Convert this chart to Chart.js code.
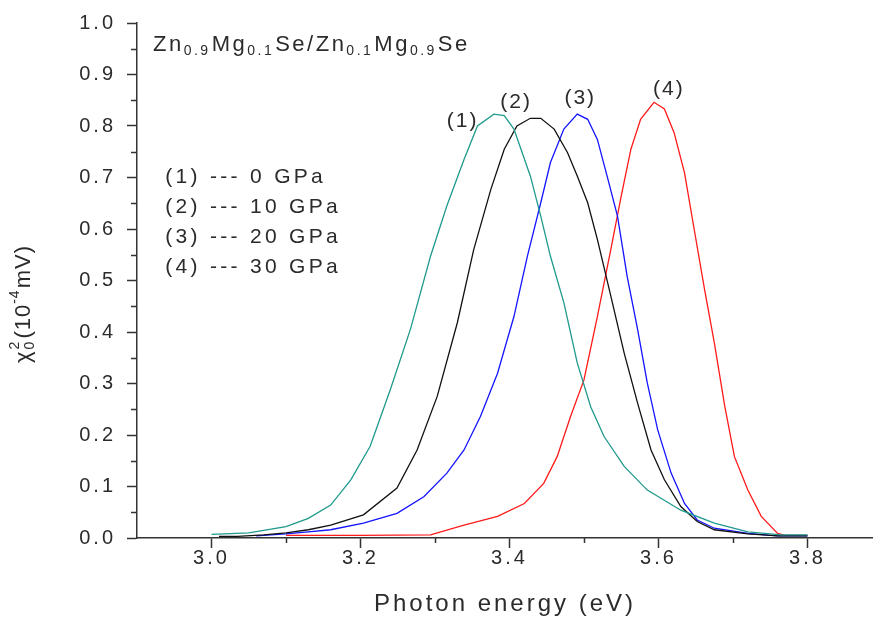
<!DOCTYPE html>
<html>
<head>
<meta charset="utf-8">
<script src="https://cdn.jsdelivr.net/npm/chart.js@4"></script>
<style>
    html, body { margin: 0; padding: 0; background: #fff; }
    #wrap { width: 873px; height: 622px; }
</style>
</head>
<body>
<div id="wrap"><canvas id="chiChart" width="873" height="622"></canvas></div>
<script>
// photon energy (eV) / chi0^2 (10^-4 mV)
const energy0 = [3.00, 3.05, 3.10, 3.13, 3.16, 3.187, 3.213, 3.24, 3.267, 3.294, 3.316, 3.339, 3.357, 3.379, 3.393, 3.406, 3.428, 3.442, 3.455, 3.473, 3.491, 3.509, 3.527, 3.554, 3.585, 3.63, 3.675, 3.72, 3.765, 3.80];
const chi0 = [0.007, 0.010, 0.022, 0.038, 0.064, 0.113, 0.178, 0.288, 0.405, 0.547, 0.645, 0.735, 0.800, 0.823, 0.820, 0.794, 0.703, 0.625, 0.547, 0.457, 0.340, 0.255, 0.197, 0.139, 0.093, 0.054, 0.029, 0.012, 0.006, 0.006];

const energy10 = [3.01, 3.035, 3.07, 3.10, 3.13, 3.16, 3.204, 3.249, 3.276, 3.303, 3.33, 3.352, 3.375, 3.393, 3.41, 3.428, 3.442, 3.46, 3.478, 3.491, 3.505, 3.518, 3.536, 3.554, 3.572, 3.59, 3.608, 3.63, 3.652, 3.675, 3.72, 3.76, 3.80];
const chi10 = [0.003, 0.003, 0.006, 0.010, 0.016, 0.025, 0.045, 0.097, 0.171, 0.275, 0.418, 0.560, 0.677, 0.755, 0.800, 0.815, 0.815, 0.794, 0.748, 0.703, 0.651, 0.580, 0.470, 0.359, 0.262, 0.171, 0.113, 0.061, 0.032, 0.016, 0.008, 0.004, 0.004];

const energy20 = [3.06, 3.10, 3.13, 3.16, 3.204, 3.249, 3.285, 3.316, 3.339, 3.361, 3.384, 3.406, 3.424, 3.442, 3.455, 3.473, 3.491, 3.505, 3.518, 3.531, 3.545, 3.558, 3.572, 3.585, 3.599, 3.617, 3.635, 3.652, 3.675, 3.72, 3.76, 3.80];
const chi20 = [0.004, 0.008, 0.012, 0.016, 0.029, 0.048, 0.080, 0.126, 0.171, 0.236, 0.320, 0.430, 0.547, 0.651, 0.729, 0.794, 0.823, 0.813, 0.774, 0.703, 0.625, 0.508, 0.405, 0.301, 0.210, 0.126, 0.067, 0.035, 0.019, 0.009, 0.004, 0.004];

const energy30 = [3.10, 3.20, 3.294, 3.339, 3.384, 3.42, 3.446, 3.464, 3.482, 3.50, 3.518, 3.536, 3.55, 3.563, 3.576, 3.594, 3.608, 3.621, 3.635, 3.648, 3.662, 3.675, 3.689, 3.702, 3.72, 3.738, 3.76, 3.77, 3.80];
const chi30 = [0.005, 0.005, 0.006, 0.025, 0.042, 0.067, 0.106, 0.158, 0.236, 0.307, 0.430, 0.560, 0.664, 0.755, 0.813, 0.846, 0.833, 0.787, 0.709, 0.599, 0.482, 0.379, 0.256, 0.158, 0.093, 0.042, 0.009, 0.005, 0.005];

const seriesLabels = ['(1)', '(2)', '(3)', '(4)'];
const legendLines = ['(1) --- 0 GPa', '(2) --- 10 GPa', '(3) --- 20 GPa', '(4) --- 30 GPa'];
const xTicks = [3.0, 3.2, 3.4, 3.6, 3.8];
const xMinorTicks = [3.1, 3.3, 3.5, 3.7];
const yTicks = [0, 0.1, 0.2, 0.3, 0.4, 0.5, 0.6, 0.7, 0.8, 0.9, 1.0];
const yMinorTicks = [0.05, 0.15, 0.25, 0.35, 0.45, 0.55, 0.65, 0.75, 0.85, 0.95];

const FONT = '"Liberation Sans", Arial, sans-serif';
const INK = '#2b2b2b';
const AXIS = '#333';

function toPoints(xs, ys) {
    return xs.map((x, i) => ({ x: x, y: ys[i] }));
}

function lineSet(label, xs, ys, color) {
    return {
        label: label,
        data: toPoints(xs, ys),
        showLine: true,
        borderColor: color,
        backgroundColor: color,
        borderWidth: 1.3,
        pointRadius: 0,
        tension: 0
    };
}

// draws a run of text pieces, some raised or lowered, left to right
function drawRich(ctx, parts, x, y, size, dryRun) {
    let cx = x;
    parts.forEach(p => {
        const s = p.small ? Math.round(size * 0.62) : size;
        ctx.font = s + 'px ' + FONT;
        let dy = 0;
        if (p.sub) dy = size * 0.3;
        if (p.sup) dy = -size * 0.42;
        if (!dryRun) ctx.fillText(p.t, cx, y + dy);
        if (!p.stack) cx += ctx.measureText(p.t).width + (p.gap || 0);
    });
    return cx - x;
}

const spacingPlugin = {
    id: 'wideText',
    beforeDraw(chart) {
        chart.ctx.letterSpacing = '3px';
    }
};

const textPlugin = {
    id: 'figureText',
    afterDraw(chart) {
        const ctx = chart.ctx;
        const xs = chart.scales.x;
        const ys = chart.scales.y;
        const area = chart.chartArea;
        ctx.save();

        // minor ticks
        ctx.strokeStyle = AXIS;
        ctx.lineWidth = 1.5;
        ctx.beginPath();
        xMinorTicks.forEach(v => {
            const px = Math.round(xs.getPixelForValue(v)) + 0.5;
            ctx.moveTo(px, area.bottom);
            ctx.lineTo(px, area.bottom + 5);
        });
        yMinorTicks.forEach(v => {
            const py = Math.round(ys.getPixelForValue(v)) + 0.5;
            ctx.moveTo(area.left - 6, py);
            ctx.lineTo(area.left, py);
        });
        ctx.stroke();

        ctx.fillStyle = INK;
        ctx.textBaseline = 'middle';
        ctx.textAlign = 'left';

        // sample name
        ctx.letterSpacing = '2.5px';
        drawRich(ctx, [
            { t: 'Zn' }, { t: '0.9', sub: true, small: true, gap: 1 },
            { t: 'Mg' }, { t: '0.1', sub: true, small: true, gap: 1 },
            { t: 'Se/Zn' }, { t: '0.1', sub: true, small: true, gap: 1 },
            { t: 'Mg' }, { t: '0.9', sub: true, small: true, gap: 1 },
            { t: 'Se' }
        ], xs.getPixelForValue(2.9215), ys.getPixelForValue(0.958), 22);

        // pressure key
        ctx.letterSpacing = '3.3px';
        ctx.font = '21px ' + FONT;
        const keyY = [0.70, 0.642, 0.584, 0.525];
        legendLines.forEach((s, i) => {
            ctx.fillText(s, xs.getPixelForValue(2.938), ys.getPixelForValue(keyY[i]));
        });

        // peak labels
        ctx.letterSpacing = '2px';
        ctx.textAlign = 'center';
        const peakPos = [[3.337, 0.809], [3.409, 0.846], [3.495, 0.854], [3.614, 0.872]];
        seriesLabels.forEach((s, i) => {
            ctx.fillText(s, xs.getPixelForValue(peakPos[i][0]), ys.getPixelForValue(peakPos[i][1]));
        });

        // y axis title, rotated
        ctx.letterSpacing = '1px';
        ctx.translate(24, 304);
        ctx.rotate(-Math.PI / 2);
        ctx.textAlign = 'left';
        const parts = [
            { t: '\u03c7', gap: 1 },
            { t: '2', sup: true, small: true, stack: true },
            { t: '0', sub: true, small: true, gap: 2 },
            { t: '(10' },
            { t: '-4', sup: true, small: true, gap: 1 },
            { t: 'mV)' }
        ];
        const w = drawRich(ctx, parts, 0, 0, 22, true);
        drawRich(ctx, parts, -w / 2, 0, 22);
        ctx.restore();
    }
};

const ctx = document.getElementById('chiChart').getContext('2d');

new Chart(ctx, {
    type: 'scatter',
    data: {
        datasets: [
            lineSet('0 GPa', energy0, chi0, '#1f9a8c'),
            lineSet('10 GPa', energy10, chi10, '#111111'),
            lineSet('20 GPa', energy20, chi20, '#1414ff'),
            lineSet('30 GPa', energy30, chi30, '#ff1a1a')
        ]
    },
    options: {
        responsive: false,
        animation: false,
        layout: { padding: { top: 22, right: 0, left: 0, bottom: 0 } },
        plugins: {
            legend: { display: false },
            tooltip: { enabled: false }
        },
        scales: {
            x: {
                type: 'linear',
                min: 2.9,
                max: 3.888,
                afterBuildTicks: axis => { axis.ticks = xTicks.map(v => ({ value: v })); },
                afterFit: axis => { axis.height = 84; },
                border: { color: AXIS, width: 1.5 },
                grid: { drawOnChartArea: false, drawTicks: true, tickLength: 10, tickColor: AXIS, tickWidth: 1.5 },
                ticks: {
                    padding: -2,
                    color: INK,
                    font: { family: FONT, size: 20 },
                    maxRotation: 0,
                    autoSkip: false,
                    callback: v => v.toFixed(1)
                },
                title: {
                    display: true,
                    text: 'Photon energy (eV)',
                    color: INK,
                    font: { family: FONT, size: 24 },
                    padding: { top: 4, bottom: 3 }
                }
            },
            y: {
                type: 'linear',
                min: 0,
                max: 1.0,
                afterBuildTicks: axis => { axis.ticks = yTicks.map(v => ({ value: v })); },
                afterFit: axis => { axis.width = 137; },
                border: { color: AXIS, width: 1.5 },
                grid: { drawOnChartArea: false, drawTicks: true, tickLength: 10, tickColor: AXIS, tickWidth: 1.5 },
                ticks: {
                    padding: 11,
                    color: INK,
                    font: { family: FONT, size: 20 },
                    autoSkip: false,
                    callback: v => v.toFixed(1)
                }
            }
        }
    },
    plugins: [spacingPlugin, textPlugin]
});
</script>
</body>
</html>
